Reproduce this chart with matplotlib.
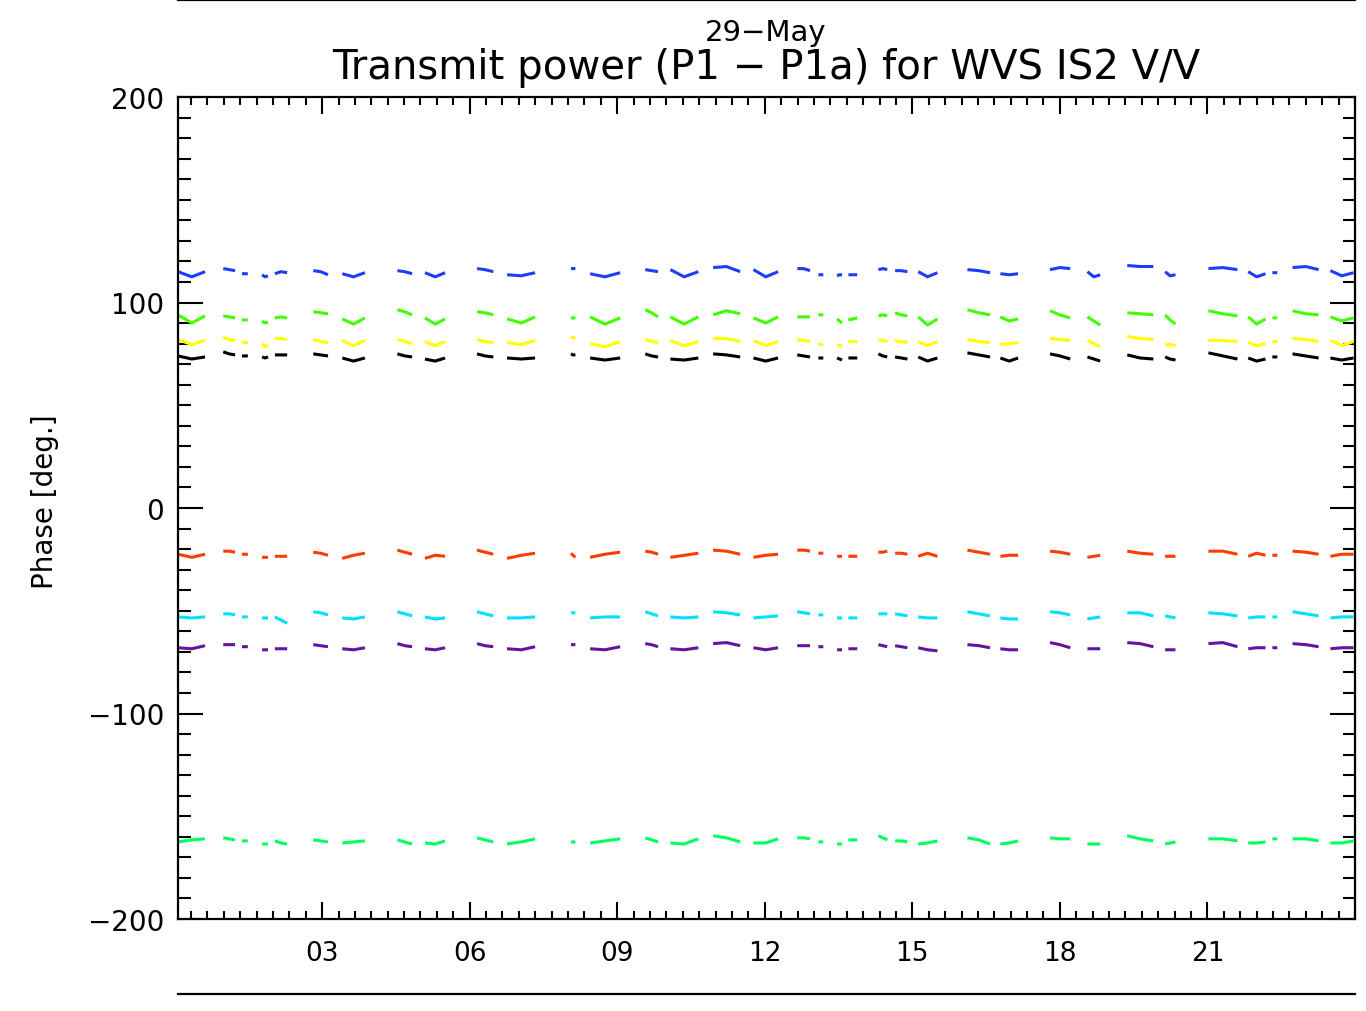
import numpy as np
import matplotlib
matplotlib.use("Agg")
import matplotlib.pyplot as plt
from matplotlib.ticker import MultipleLocator, FixedLocator, FuncFormatter
from matplotlib.lines import Line2D

# time of each data stretch (hours of the day), three samples per stretch
hours = [
    [0.07, 0.35, 0.62], [0.99, 1.11, 1.23], [1.37, 1.43, 1.49], [1.78, 1.84, 1.90], [2.04, 2.16, 2.29],
    [2.82, 2.97, 3.12], [3.41, 3.64, 3.87], [4.53, 4.68, 4.83], [5.09, 5.30, 5.50], [6.15, 6.31, 6.48],
    [6.76, 7.05, 7.33], [8.06, 8.10, 8.15], [8.45, 8.75, 9.06], [9.57, 9.70, 9.83], [10.08, 10.36, 10.65],
    [10.95, 11.22, 11.50], [11.77, 12.02, 12.27], [12.66, 12.79, 12.92], [13.09, 13.14, 13.19], [13.47, 13.52, 13.57],
    [13.70, 13.79, 13.88], [14.31, 14.40, 14.49], [14.65, 14.77, 14.90], [15.12, 15.31, 15.51], [16.12, 16.35, 16.58],
    [16.79, 16.97, 17.15], [17.80, 18.00, 18.21], [18.56, 18.69, 18.82], [19.37, 19.63, 19.90], [20.14, 20.24, 20.35],
    [21.02, 21.31, 21.61], [21.83, 22.00, 22.18], [22.32, 22.37, 22.42], [22.73, 23.00, 23.26], [23.50, 23.73, 23.97],
]
hour_ticks = [3, 6, 9, 12, 15, 18, 21]

phase_blue = [
    [115, 112.5, 115], [116.5, 116, 115.5], [114, 114, 114], [113.5, 112.5, 113], [114, 115, 114.5],
    [115.5, 115, 113.5], [114, 112.5, 114.5], [115.5, 115, 114], [114.5, 112.5, 114.5], [116.5, 116, 115],
    [113.5, 113, 114.5], [116.5, 116.5, 116.5], [114, 112.5, 114.5], [116, 115.5, 115], [116, 112.5, 115],
    [117, 117.5, 115], [116, 112.5, 115], [116.5, 116.5, 115.5], [113.5, 113.5, 113.5], [113, 113.5, 113.5],
    [113.5, 113.5, 113.5], [116, 116.5, 116], [115.5, 115.5, 115], [115, 112.5, 114.5], [116, 115.5, 114.5],
    [114, 113.5, 114], [116, 117, 116.5], [115, 112.5, 113.5], [118, 117.5, 117.5], [115, 113, 113.5],
    [116.5, 117, 116], [115, 112.5, 114], [114.5, 114.5, 114.5], [117, 117.5, 116], [115.5, 113, 114.5],
]

phase_green = [
    [94, 90, 93.5], [93.5, 93, 92.5], [91.5, 91.5, 91.5], [91, 90, 90.5], [92.5, 93, 92.5],
    [95.5, 95, 94.5], [92, 89.5, 92.5], [96.5, 95.5, 94], [92.5, 89.5, 92], [95.5, 95, 94],
    [92, 90, 93], [92.5, 92.5, 92.5], [93, 89.5, 92.5], [96.5, 95, 93], [93, 89.5, 93],
    [94, 96, 94.5], [92.5, 90, 93], [93, 93, 93], [94, 94, 94], [92, 91, 90],
    [91.5, 92, 92.5], [93.5, 94, 93.5], [95, 94, 93.5], [93, 89, 92], [96.5, 95, 94],
    [93, 91, 92], [96, 94, 92.5], [93, 91, 89], [95, 94.5, 94], [94, 91.5, 89.5],
    [96, 94.5, 93.5], [93, 89.5, 92], [92.5, 92.5, 92.5], [96, 94.5, 94], [93, 91, 92.5],
]

phase_yellow = [
    [82, 79.5, 81.5], [83, 82, 81.5], [80.5, 80.5, 80.5], [80, 78.5, 79.5], [82.5, 82.5, 82],
    [82, 81, 80.5], [81.5, 79, 81.5], [82, 81, 80], [81, 79, 81], [82, 81, 80.5],
    [80.5, 79.5, 81.5], [83, 83, 82.5], [80, 78.5, 81], [82, 81, 80.5], [81.5, 79, 81],
    [82.5, 82.5, 81], [81.5, 79, 81], [82, 81.5, 81], [79.5, 79.5, 79.5], [79.5, 79, 79],
    [81, 81, 81], [82, 81.5, 81], [81.5, 81, 80.5], [81, 79, 81], [82, 81, 80.5],
    [79.5, 80, 80.5], [82.5, 82, 81.5], [81.5, 80, 78.5], [83.5, 82.5, 82], [79.5, 79.5, 79],
    [81.5, 81.5, 81], [80.5, 79, 80], [81, 81, 81], [82.5, 82, 81], [81.5, 79, 81],
]

phase_black = [
    [74, 72.5, 73.5], [76, 75, 74.5], [74, 74, 74], [73.5, 73, 73.5], [74.5, 74.5, 74.5],
    [75, 74.5, 74], [73, 71.5, 73], [75, 74, 73.5], [72.5, 71.5, 73], [75, 74, 73.5],
    [73, 72.5, 73], [75, 74.5, 74.5], [73, 72, 73], [75, 74, 73.5], [72.5, 72, 73],
    [75, 74.5, 73.5], [73, 71.5, 73], [74.5, 74, 73.5], [73, 73, 73], [73, 72.5, 72],
    [73, 73, 73], [75, 74, 73.5], [73.5, 73, 72.5], [73.5, 71.5, 73], [75.5, 74.5, 73.5],
    [73, 71.5, 73], [75, 74, 72.5], [73.5, 72.5, 71.5], [74.5, 73, 72.5], [73.5, 72.5, 72],
    [75.5, 74, 72.5], [73, 71.5, 72.5], [73.5, 73.5, 73.5], [75, 74, 73], [73, 72, 73],
]

phase_orange = [
    [-22.5, -24, -22.5], [-21, -21, -21.5], [-22.5, -22.5, -22.5], [-24, -24, -24], [-23.5, -23.5, -23.5],
    [-21.5, -22, -23], [-24.5, -23, -22], [-20.5, -21.5, -22.5], [-24.5, -23, -23.5], [-20.5, -21.5, -22.5],
    [-24.5, -23, -22], [-22, -23, -24], [-24, -22.5, -21.5], [-21, -21.5, -22.5], [-24, -23, -22],
    [-20.5, -21, -22.5], [-24, -23, -22.5], [-20.5, -20.5, -21], [-22, -22, -22], [-23.5, -23.5, -23.5],
    [-23.5, -23.5, -23.5], [-21.5, -21.5, -21], [-22, -22, -22.5], [-23.5, -22, -23.5], [-20.5, -21.5, -22.5],
    [-23.5, -23, -23], [-21, -21.5, -22.5], [-24, -23.5, -23], [-21, -22, -22.5], [-23.5, -23.5, -23.5],
    [-21, -21, -22.5], [-23.5, -22, -23], [-23, -23, -23], [-21, -21.5, -22.5], [-23.5, -22.5, -22.5],
]

phase_cyan = [
    [-53, -53.5, -53], [-51.5, -51.5, -52], [-53, -53, -53], [-53.5, -53.5, -53.5], [-53, -54.5, -56],
    [-50.5, -51, -52], [-53.5, -54, -53], [-50.5, -51.5, -52.5], [-53, -54, -53.5], [-50.5, -51.5, -52.5],
    [-53.5, -53.5, -53], [-51, -51, -51], [-53.5, -53, -53], [-50.5, -51.5, -52.5], [-53, -53.5, -53],
    [-50.5, -51, -52], [-53.5, -53, -52.5], [-50.5, -51, -51.5], [-52, -52, -52], [-53.5, -53.5, -53.5],
    [-53.5, -53.5, -53.5], [-51.5, -51.5, -51.5], [-51.5, -52, -52.5], [-53, -53.5, -53.5], [-50.5, -51.5, -52.5],
    [-53.5, -54, -54], [-50.5, -51, -52], [-54, -53.5, -53], [-51, -51, -52.5], [-52.5, -53, -53.5],
    [-51, -51.5, -52.5], [-53.5, -53, -53], [-53, -53, -53], [-50.5, -51.5, -52.5], [-53.5, -53, -53],
]

phase_purple = [
    [-68, -68.5, -67], [-66.5, -66.5, -66.5], [-67.5, -67.5, -67.5], [-69, -69, -69], [-68.5, -68.5, -68.5],
    [-66.5, -67, -67.5], [-68.5, -69, -68], [-66, -67, -67.5], [-68.5, -69, -68], [-66, -67, -67.5],
    [-68.5, -69, -67.5], [-66.5, -66.5, -66.5], [-68.5, -69, -67.5], [-66, -66.5, -67.5], [-68.5, -69, -68],
    [-66, -65.5, -67], [-68, -69, -68], [-67, -67, -67], [-67.5, -67.5, -67.5], [-69, -69, -69],
    [-68.5, -68.5, -68.5], [-66.5, -67, -67.5], [-67, -67.5, -68], [-68, -69, -69.5], [-66.5, -67, -68],
    [-68.5, -69, -69], [-65.5, -66.5, -68], [-68.5, -68.5, -68.5], [-65.5, -66, -67.5], [-69, -69, -69],
    [-66, -65.5, -67.5], [-68.5, -68, -68], [-68, -68, -68], [-66, -66.5, -67.5], [-68.5, -68, -68],
]

phase_spring = [
    [-162.5, -161.5, -161], [-160.5, -161, -161.5], [-162, -162, -162], [-163.5, -163.5, -163.5], [-162, -163, -163.5],
    [-161.5, -162, -162.5], [-163, -162.5, -162], [-161.5, -162.5, -163.5], [-163, -163.5, -162], [-160.5, -161.5, -162.5],
    [-163.5, -162.5, -161], [-162.5, -162.5, -162.5], [-163, -162, -161], [-160.5, -161.5, -162.5], [-163, -163.5, -161],
    [-159.5, -160.5, -162.5], [-163, -163, -161], [-160.5, -160.5, -161], [-162.5, -162.5, -162.5], [-163.5, -163.5, -163.5],
    [-161.5, -161.5, -161.5], [-159.5, -160.5, -161.5], [-162, -162, -162.5], [-163.5, -163, -162], [-160.5, -161.5, -163.5],
    [-163.5, -163, -162], [-160.5, -161, -161], [-163.5, -163.5, -163.5], [-159.5, -161, -162], [-163.5, -163, -162.5],
    [-161, -161, -162], [-163, -163, -162.5], [-161, -161, -161], [-161, -161, -162], [-163, -163, -162],
]

series = [
    (phase_blue, "#1e3cff"),
    (phase_green, "#40ff00"),
    (phase_yellow, "#ffff00"),
    (phase_black, "#000000"),
    (phase_orange, "#ff3c00"),
    (phase_cyan, "#00e0ff"),
    (phase_purple, "#6414a0"),
    (phase_spring, "#00ff60"),
]


def join_segments(segs):
    # put a NaN between stretches so the line breaks at data gaps
    out = []
    for s in segs:
        out.extend(s)
        out.append(np.nan)
    return np.array(out, dtype=float)


W, H = 1366, 1012
fig = plt.figure(figsize=(W / 100, H / 100), dpi=100)
ax = fig.add_axes([178 / W, 92 / H, 1177 / W, 822 / H])

t = join_segments(hours)
for vals, col in series:
    ax.plot(t, join_segments(vals), color=col, lw=2.2, solid_capstyle="butt")

ax.set_xlim(0.07, 24.0)
ax.set_ylim(-200, 200)

ax.xaxis.set_major_locator(FixedLocator(hour_ticks))
ax.xaxis.set_minor_locator(MultipleLocator(1 / 3))
ax.yaxis.set_major_locator(MultipleLocator(100))
ax.yaxis.set_minor_locator(MultipleLocator(10))
ax.xaxis.set_major_formatter(FuncFormatter(lambda v, p: f"{int(round(v)):02d}"))

for s in ax.spines.values():
    s.set_linewidth(1.6)

ax.tick_params(axis="x", which="major", direction="in", top=True, length=12, width=1.5,
               pad=15, labelsize=19)
ax.tick_params(axis="x", which="minor", direction="in", top=True, length=6, width=1.5)
ax.tick_params(axis="y", which="major", direction="in", right=True, length=18, width=1.5,
               pad=10, labelsize=20)
ax.tick_params(axis="y", which="minor", direction="in", right=True, length=9, width=1.5)

fig.text(45 / W, 1 - 502 / H, "Phase [deg.]", rotation=90, ha="center", va="center", fontsize=20)
fig.text(766 / W, 1 - 33 / H, "29\u2212May", ha="center", va="center", fontsize=21)
fig.text(766 / W, 1 - 68 / H, "Transmit power (P1 \u2212 P1a) for WVS IS2 V/V",
         ha="center", va="center", fontsize=29)

# separator rules above and below the panel
fig.add_artist(Line2D([178 / W, 1355 / W], [1 - 1 / H, 1 - 1 / H], color="black", lw=1.6))
fig.add_artist(Line2D([178 / W, 1355 / W], [1 - 995 / H, 1 - 995 / H], color="black", lw=1.6))

fig.savefig("out.png", dpi=100)
